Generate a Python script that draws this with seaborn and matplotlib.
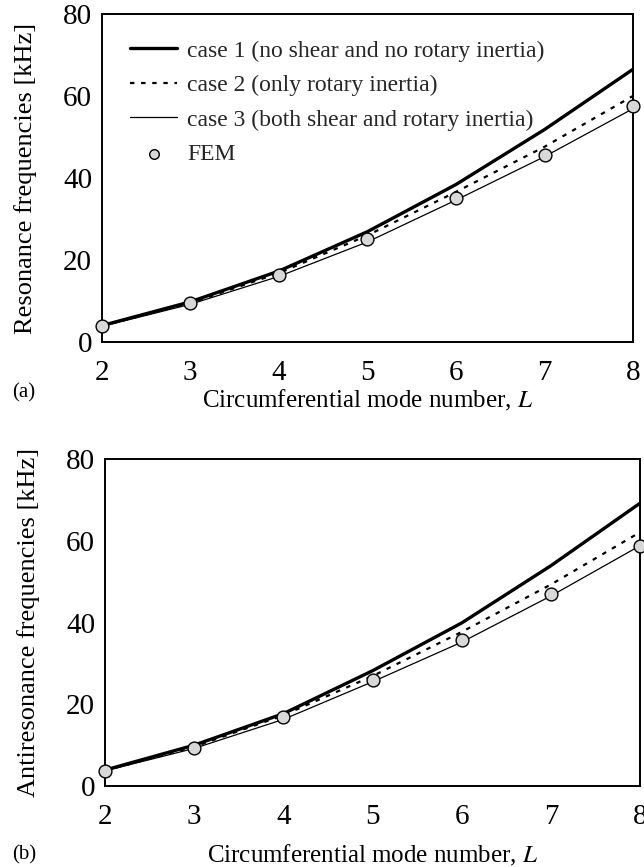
import matplotlib
matplotlib.use("Agg")
import matplotlib.pyplot as plt
import seaborn as sns
import pandas as pd

L = [2, 3, 4, 5, 6, 7, 8]

# (a) resonance frequencies [kHz]
res_case1 = [4.0, 9.8, 17.3, 26.9, 38.4, 51.8, 66.5]
res_case2 = [3.9, 9.5, 16.8, 26.0, 36.6, 47.6, 60.0]
res_case3 = [3.8, 9.2, 16.0, 24.4, 34.6, 45.2, 56.9]
res_fem = [3.8, 9.4, 16.4, 25.1, 35.0, 45.7, 57.5]

# (b) antiresonance frequencies [kHz]
anti_case1 = [3.9, 10.0, 17.7, 28.2, 39.9, 53.9, 69.2]
anti_case2 = [3.8, 9.6, 17.3, 26.9, 37.7, 49.3, 62.1]
anti_case3 = [3.7, 9.2, 16.3, 25.5, 35.2, 46.5, 58.8]
anti_fem = [3.7, 9.4, 16.8, 26.0, 35.8, 46.9, 58.7]

labels = ["case 1 (no shear and no rotary inertia)",
          "case 2 (only rotary inertia)",
          "case 3 (both shear and rotary inertia)",
          "FEM"]

sns.set_theme(style="white")
plt.rcParams["font.family"] = ["Liberation Serif", "DejaVu Serif"]
plt.rcParams["mathtext.fontset"] = "stix"

fig = plt.figure(figsize=(6.44, 8.67), dpi=100)
ax1 = fig.add_axes([0.158, 0.6055, 0.825, 0.3785])
ax2 = fig.add_axes([0.163, 0.0934, 0.831, 0.3772])


def draw(ax, c1, c2, c3, fem, ylabel, tag, tag_xy, xlabelpad, legend):
    df = pd.DataFrame({"L": L, "c1": c1, "c2": c2, "c3": c3, "fem": fem})
    sns.lineplot(data=df, x="L", y="c1", ax=ax, color="black", lw=2.4,
                 label=labels[0])
    sns.lineplot(data=df, x="L", y="c2", ax=ax, color="black", lw=1.6,
                 linestyle=(0, (2, 3)), label=labels[1])
    sns.lineplot(data=df, x="L", y="c3", ax=ax, color="black", lw=0.9,
                 label=labels[2])
    sns.scatterplot(data=df, x="L", y="fem", ax=ax, marker="o", s=85,
                    color="#d8d8d8", edgecolor="black", linewidth=1.0,
                    label=labels[3], zorder=5, clip_on=False)
    ax.set_xlim(2, 8)
    ax.set_ylim(0, 80)
    ax.set_xticks(L)
    ax.set_yticks([0, 20, 40, 60, 80])
    ax.tick_params(axis="x", direction="in", length=7, width=1,
                   labelsize=21, pad=13, colors="black")
    ax.tick_params(axis="y", direction="in", length=7, width=1,
                   labelsize=21, pad=7, colors="black")
    for s in ax.spines.values():
        s.set_color("black")
        s.set_linewidth(1.4)
    ax.set_xlabel("Circumferential mode number, $L$", fontsize=18,
                  color="black", labelpad=xlabelpad)
    ax.set_ylabel(ylabel, fontsize=19, color="black", labelpad=19)
    ax.text(tag_xy[0], tag_xy[1], tag, transform=ax.transAxes, fontsize=15,
            color="black", ha="left", va="center")
    if legend:
        ax.legend(loc="upper left", frameon=False, fontsize=17,
                  handlelength=2.0, handletextpad=0.42, labelspacing=0.55,
                  borderpad=0, borderaxespad=0, markerscale=0.75,
                  bbox_to_anchor=(0.053, 0.92))
    else:
        ax.get_legend().remove()


draw(ax1, res_case1, res_case2, res_case3, res_fem,
     "Resonance frequencies [kHz]", "(a)", (-0.169, -0.155), 1, True)
draw(ax2, anti_case1, anti_case2, anti_case3, anti_fem,
     "Antiresonance frequencies [kHz]", "(b)", (-0.174, -0.21), 9, False)

fig.savefig("out.png", dpi=100)
